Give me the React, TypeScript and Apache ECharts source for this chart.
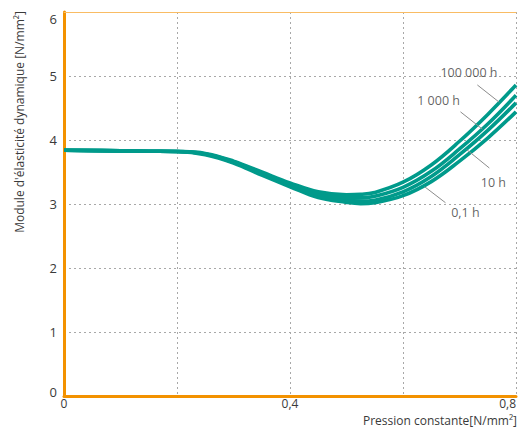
import React, { useEffect, useRef } from "react";
import * as echarts from "echarts";

// Pression constante [N/mm²]
const pressure = [0, 0.1, 0.15, 0.2, 0.25, 0.3, 0.35, 0.4, 0.45, 0.5, 0.525, 0.55, 0.6, 0.65, 0.7, 0.75, 0.8];
// Module d'élasticité dynamique [N/mm²]
const curve100000h = [3.84, 3.83, 3.825, 3.82, 3.79, 3.67, 3.5, 3.33, 3.19, 3.145, 3.15, 3.18, 3.34, 3.61, 3.98, 4.4, 4.86];
const curve1000h = [3.84, 3.83, 3.825, 3.82, 3.78, 3.66, 3.48, 3.31, 3.16, 3.1, 3.095, 3.12, 3.26, 3.51, 3.86, 4.25, 4.7];
const curve10h = [3.84, 3.83, 3.825, 3.82, 3.78, 3.65, 3.47, 3.29, 3.13, 3.06, 3.045, 3.06, 3.19, 3.43, 3.77, 4.15, 4.58];
const curve01h = [3.84, 3.83, 3.825, 3.82, 3.77, 3.64, 3.45, 3.27, 3.1, 3.025, 3.005, 3.02, 3.13, 3.35, 3.67, 4.03, 4.44];

const seriesNames = ["100 000 h", "1 000 h", "10 h", "0,1 h"];
const seriesValues = [curve100000h, curve1000h, curve10h, curve01h];

// label annotations (data coordinates)
const labelAt = [
  [0.7167, 5.06],
  [0.663, 4.625],
  [0.76, 3.34],
  [0.7105, 2.86],
];
const pointerStart = [
  [0.7316, 4.86],
  [0.7017, 4.44],
  [0.7127, 3.85],
  [0.6383, 3.27],
];
const pointerEnd = [
  [0.7704, 4.59],
  [0.7404, 4.17],
  [0.7528, 3.5625],
  [0.6752, 3.02],
];

const xTickLabels = ["0", "0,4", "0,8"];
const yTicks = [0, 1, 2, 3, 4, 5, 6];

const FONT = "'Open Sans', 'Noto Sans', sans-serif";
const TEAL = "#009A8B";
const ORANGE = "#F39200";
const TEXT = "#3a3a3a";

export default function App() {
  const ref = useRef<HTMLDivElement>(null);

  useEffect(() => {
    if (!ref.current) return;
    const chart = echarts.init(ref.current, undefined, { renderer: "svg" });

    const curveSeries = seriesValues.map((vals, i) => ({
      name: seriesNames[i],
      type: "line",
      data: pressure.map((p, j) => [p, vals[j]]),
      smooth: 0.4,
      symbol: "none",
      lineStyle: { color: TEAL, width: 3.6 },
      z: 3,
      silent: true,
    }));

    const pointerSeries = pointerStart.map((s, i) => ({
      type: "line",
      data: [s, pointerEnd[i]],
      symbol: "none",
      lineStyle: { color: "#8c8c8c", width: 1 },
      z: 4,
      silent: true,
    }));

    const labelSeries = {
      type: "scatter",
      data: labelAt.map((p, i) => [p[0], p[1], seriesNames[i]]),
      symbolSize: 1,
      itemStyle: { color: "rgba(0,0,0,0)" },
      label: {
        show: true,
        position: "inside",
        formatter: (p: any) => p.data[2],
        color: TEXT,
        fontSize: 12.5,
        fontFamily: FONT,
      },
      z: 5,
      silent: true,
    };

    chart.setOption({
      animation: false,
      grid: { left: 64, right: 0, top: 12, bottom: 31 },
      xAxis: [
        {
          type: "value",
          min: 0,
          max: 0.8,
          interval: 0.2,
          axisLine: { show: true, lineStyle: { color: ORANGE, width: 3 } },
          axisTick: { show: false },
          axisLabel: {
            color: TEXT,
            fontSize: 12,
            fontFamily: FONT,
            margin: 1,
            lineHeight: 12,
            alignMaxLabel: "right",
            formatter: (v: number) => {
              const r = Math.round(v * 10) / 10;
              const idx = [0, 0.4, 0.8].indexOf(r);
              return idx >= 0 ? xTickLabels[idx] : "";
            },
          },
          splitLine: {
            show: true,
            lineStyle: { color: "#a8a8a8", type: [2, 3], width: 1 },
          },
        },
        {
          type: "value",
          position: "top",
          min: 0,
          max: 0.8,
          axisLine: { show: true, lineStyle: { color: "#F9BC64", width: 1 } },
          axisTick: { show: false },
          axisLabel: { show: false },
          splitLine: { show: false },
        },
      ],
      yAxis: {
        type: "value",
        min: 0,
        max: 6,
        interval: 1,
        axisLine: { show: true, lineStyle: { color: ORANGE, width: 3 } },
        axisTick: { show: false },
        axisLabel: {
          color: TEXT,
          fontSize: 13,
          fontFamily: FONT,
          margin: 7,
          formatter: (v: number) => {
            const t = yTicks.indexOf(Math.round(v));
            if (t === 6) return "{top|" + v + "}";
            if (t === 0) return "{bot|" + v + "}";
            return String(v);
          },
          rich: {
            top: { padding: [14, 0, 0, 0], fontSize: 13, color: TEXT, fontFamily: FONT },
            bot: { padding: [0, 0, 8, 0], fontSize: 13, color: TEXT, fontFamily: FONT },
          },
        },
        splitLine: {
          show: true,
          lineStyle: {
            color: ["#a8a8a8", "#a8a8a8", "#a8a8a8", "#a8a8a8", "#a8a8a8", "#a8a8a8", "rgba(0,0,0,0)"],
            type: [2, 3],
            width: 1,
          },
        },
      },
      graphic: [
        {
          type: "text",
          x: 19,
          y: 122,
          rotation: Math.PI / 2,
          style: {
            text: "Module d'élasticité dynamique [N/mm²]",
            fill: TEXT,
            font: `12px ${FONT}`,
            align: "center",
            verticalAlign: "middle",
          },
        },
        {
          type: "text",
          x: 517,
          y: 420,
          style: {
            text: "Pression constante[N/mm²]",
            fill: TEXT,
            font: `12px ${FONT}`,
            lineHeight: 12,
            align: "right",
            verticalAlign: "middle",
          },
        },
      ],
      series: [...curveSeries.reverse(), ...pointerSeries, labelSeries],
    });

    return () => chart.dispose();
  }, []);

  return (
    <div
      ref={ref}
      style={{ position: "absolute", left: 0, top: 0, width: 519, height: 427 }}
    />
  );
}
